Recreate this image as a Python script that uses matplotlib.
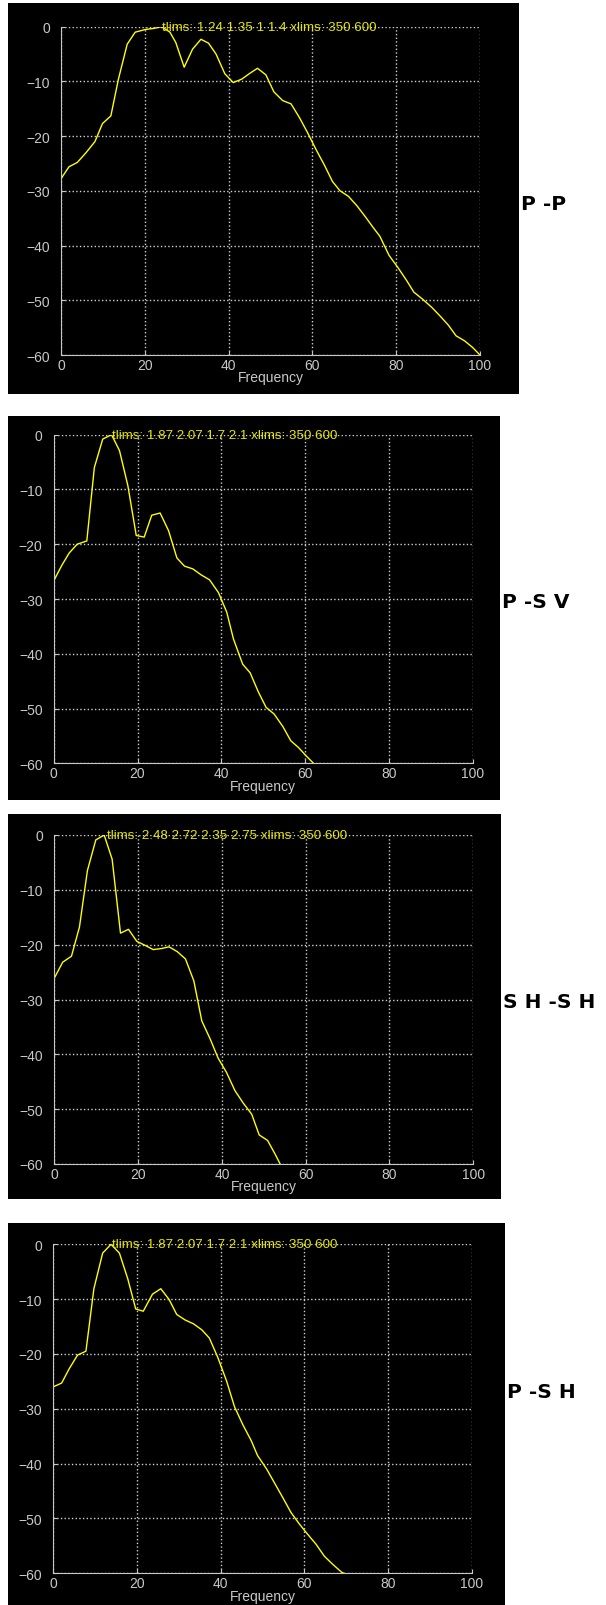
import numpy as np
import matplotlib.pyplot as plt
from matplotlib.patches import Rectangle

W, H = 606, 1606

# spectra (frequency, amplitude in dB)
f_pp = [0, 1.9, 3.9, 6.0, 8.1, 9.9, 11.9, 13.7, 15.8, 17.7, 20.2, 22.2, 24.0, 26.0,
        27.4, 29.4, 31.4, 33.4, 35.2, 37.0, 39.1, 41.1, 43.1, 45.1, 46.9, 48.9, 50.8,
        52.9, 54.9, 56.9, 58.8, 60.9, 62.8, 64.8, 66.6, 68.6, 70.6, 72.7, 74.5, 76.1,
        78.3, 80.4, 82.5, 84.2, 86.3, 88.5, 90.5, 92.4, 94.3, 96.3, 98.2, 100]
a_pp = [-27.8, -25.6, -24.8, -23.0, -21.0, -17.7, -16.3, -9.6, -3.2, -1.0, -0.5, -0.3,
        0, -1.0, -2.9, -7.4, -4.1, -2.3, -3.0, -5.0, -8.6, -10.2, -9.6, -8.5, -7.6, -8.8,
        -11.9, -13.5, -14.1, -16.6, -19.3, -22.5, -25.2, -28.3, -30.0, -31.0, -32.7,
        -34.8, -36.7, -38.3, -41.8, -44.0, -46.4, -48.5, -49.8, -51.3, -52.9, -54.5,
        -56.5, -57.4, -58.6, -60]

f_psv = [0, 1.9, 3.7, 5.6, 7.9, 9.7, 11.7, 13.8, 15.7, 17.7, 19.7, 21.6, 23.4, 25.4,
         27.4, 29.4, 31.2, 33.2, 35.2, 37.2, 39.3, 41.3, 42.9, 45.1, 46.9, 48.8, 50.7,
         52.6, 54.7, 56.6, 58.4, 60.2, 62.0]
a_psv = [-26.7, -23.9, -21.6, -20.0, -19.4, -6.0, -0.8, 0, -2.9, -9.3, -18.4, -18.7,
         -14.7, -14.3, -17.5, -22.5, -24.0, -24.5, -25.6, -26.5, -28.8, -32.4, -37.3,
         -41.9, -43.5, -46.9, -49.8, -51.0, -53.3, -55.9, -57.1, -58.6, -60]

f_shsh = [0, 2.0, 4.1, 6.0, 7.9, 9.9, 11.9, 13.8, 15.8, 17.7, 19.7, 21.6, 23.6, 25.6,
          27.4, 29.4, 31.3, 33.3, 35.2, 37.2, 39.1, 41.1, 43.1, 45.1, 47.1, 48.9, 50.9,
          52.7, 53.9]
a_shsh = [-26.1, -23.2, -22.1, -16.8, -6.5, -0.9, 0, -4.4, -17.9, -17.2, -19.4, -20.1,
          -20.9, -20.7, -20.4, -21.3, -22.6, -26.6, -33.9, -37.2, -40.7, -43.3, -46.6,
          -48.9, -50.9, -54.7, -55.7, -58.2, -60]

f_psh = [0, 2.0, 3.8, 5.8, 7.8, 9.7, 11.8, 13.8, 15.8, 17.8, 19.7, 21.5, 23.7, 25.7,
         27.7, 29.5, 31.5, 33.5, 35.5, 37.3, 39.3, 41.4, 43.3, 45.3, 47.3, 48.8, 51.0,
         53.0, 55.0, 56.8, 58.8, 60.7, 62.8, 64.8, 66.7, 68.9, 69.5]
a_psh = [-26.0, -25.3, -22.7, -20.2, -19.5, -8.1, -1.6, 0, -1.6, -6.3, -11.8, -12.2,
         -9.1, -8.1, -10.1, -12.8, -13.8, -14.5, -15.6, -17.1, -20.6, -24.9, -29.6,
         -32.9, -35.8, -38.5, -41.0, -43.7, -46.4, -48.9, -51.0, -52.8, -54.7, -56.9,
         -58.3, -59.8, -60]

labels = ["P -P", "P -S V", "S H -S H", "P -S H"]
notes = ["tlims: 1.24 1.35 1 1.4 xlims: 350 600",
         "tlims: 1.87 2.07 1.7 2.1 xlims: 350 600",
         "tlims: 2.48 2.72 2.35 2.75 xlims: 350 600",
         "tlims: 1.87 2.07 1.7 2.1 xlims: 350 600"]
note_x = [24, 14, 12.5, 14]
series = [(f_pp, a_pp), (f_psv, a_psv), (f_shsh, a_shsh), (f_psh, a_psh)]

# pixel boxes (left, top, right, bottom)
panels = [(8, 4, 519, 395), (8, 417, 500, 801), (8, 815, 501, 1200), (8, 1224, 505, 1606)]
axboxes = [(61, 27.7, 480, 356), (53.7, 435.7, 472.7, 764.3),
           (54.3, 836, 473.3, 1165), (53.3, 1245.3, 471.7, 1574.3)]
labpos = [(521, 205), (502, 603), (503, 1003), (507, 1393)]

gray = '#c8c8c8'
fig = plt.figure(figsize=(W / 100, H / 100), dpi=100, facecolor='white')

def frac(l, t, r, b):
    return [l / W, 1 - b / H, (r - l) / W, (b - t) / H]

for i in range(4):
    l, t, r, b = panels[i]
    fig.add_artist(Rectangle((l / W, 1 - b / H), (r - l) / W, (b - t) / H,
                             transform=fig.transFigure, facecolor='black',
                             edgecolor='none', zorder=-1))
    ax = fig.add_axes(frac(*axboxes[i]))
    ax.set_facecolor('black')
    f, a = series[i]
    ax.plot(f, a, color='#ffff00', lw=1)
    ax.set_xlim(0, 100)
    ax.set_ylim(-60, 0)
    ax.set_xticks(np.arange(0, 101, 20))
    ax.set_yticks(np.arange(-60, 1, 10))
    ax.grid(True, color='#d0d0d0', linestyle=':', lw=1)
    for s in ['top', 'right']:
        ax.spines[s].set_visible(False)
    for s in ['left', 'bottom']:
        ax.spines[s].set_color(gray)
    ax.tick_params(axis='both', direction='in', length=3, color=gray,
                   labelcolor=gray, labelsize=10)
    ax.tick_params(axis='y', pad=8)
    ax.tick_params(axis='x', pad=2)
    for lab in ax.get_xticklabels() + ax.get_yticklabels():
        lab.set_family('Liberation Sans')
    ax.set_xlabel('Frequency', color=gray, fontsize=10, family='Liberation Sans',
                  labelpad=-1)
    ax.text(note_x[i], 0, notes[i], color='#e6e600', fontsize=9.6,
            family='Liberation Sans', va='center', ha='left', clip_on=False)
    x, y = labpos[i]
    fig.text(x / W, 1 - y / H, labels[i], fontsize=14.5, fontweight='bold',
             family='DejaVu Sans', va='center', ha='left', color='black')

fig.savefig('out.png', dpi=100, facecolor='white')
